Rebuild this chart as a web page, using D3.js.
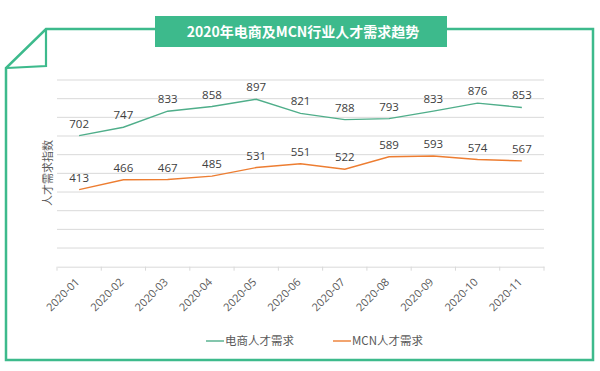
<!DOCTYPE html>
<html>
<head>
<meta charset="utf-8">
<script src="https://cdn.jsdelivr.net/npm/d3@7"></script>
<style>
  body { margin: 0; background: #fff; }
  svg { display: block; font-family: "Noto Sans CJK SC", "Open Sans", sans-serif; }
</style>
</head>
<body>
<div id="chart"></div>
<script>
const months = ["2020-01", "2020-02", "2020-03", "2020-04", "2020-05", "2020-06",
  "2020-07", "2020-08", "2020-09", "2020-10", "2020-11"];
const ecommerce = [702, 747, 833, 858, 897, 821, 788, 793, 833, 876, 853];
const mcn = [413, 466, 467, 485, 531, 551, 522, 589, 593, 574, 567];
const seriesNames = ["电商人才需求", "MCN人才需求"];
const title = "2020年电商及MCN行业人才需求趋势";
const yTitle = "人才需求指数";

const W = 600, H = 371;
const green = "#3dba8c", lineGreen = "#4fae8a", orange = "#ed7d31";

const svg = d3.select("#chart").append("svg")
  .attr("width", W).attr("height", H);

// frame with folded corner
svg.append("path")
  .attr("d", "M46,29 L593,29 L593,360 L6,360 L6,68 Z")
  .attr("fill", "none").attr("stroke", green).attr("stroke-width", 2.5)
  .attr("stroke-linejoin", "miter");
svg.append("path")
  .attr("d", "M46,30 L46,66 L7,68")
  .attr("fill", "none").attr("stroke", green).attr("stroke-width", 2.2);

// title box
svg.append("rect")
  .attr("x", 155).attr("y", 16).attr("width", 292).attr("height", 31)
  .attr("fill", green);
svg.append("text")
  .attr("x", 303).attr("y", 32).attr("dy", "0.35em")
  .attr("text-anchor", "middle").attr("fill", "#fff")
  .attr("font-size", 14).attr("font-weight", "bold")
  .text(title);

const x = d3.scaleBand().domain(months).range([57, 544]);
const y = d3.scaleLinear().domain([0, 1000]).range([266.7, 80]);

// gridlines
svg.append("g")
  .selectAll("line")
  .data(y.ticks(10).filter(d => d > 0))
  .enter().append("line")
  .attr("x1", 57).attr("x2", 544)
  .attr("y1", d => y(d)).attr("y2", d => y(d))
  .attr("stroke", "#d9d9d9").attr("stroke-width", 1);

// x axis
const xAxis = svg.append("g")
  .attr("transform", "translate(0," + y(0) + ")")
  .call(d3.axisBottom(x).tickSize(0).tickFormat(""));
xAxis.select(".domain").attr("stroke", "#d9d9d9");
svg.append("g")
  .selectAll("line")
  .data(months.concat(["end"]))
  .enter().append("line")
  .attr("x1", (d, i) => 57 + i * x.step()).attr("x2", (d, i) => 57 + i * x.step())
  .attr("y1", y(0)).attr("y2", y(0) + 4)
  .attr("stroke", "#d9d9d9");

svg.append("g")
  .selectAll("text")
  .data(months)
  .enter().append("text")
  .attr("transform", d => "translate(" + (x(d) + x.bandwidth() / 2 + 1) + "," + (y(0) + 16) + ") rotate(-45)")
  .attr("text-anchor", "end")
  .attr("fill", "#595959").attr("font-size", 11)
  .attr("font-family", "Open Sans, sans-serif")
  .text(d => d);

// y title
svg.append("text")
  .attr("transform", "translate(48,173) rotate(-90)")
  .attr("text-anchor", "middle").attr("dy", "0.35em")
  .attr("fill", "#595959").attr("font-size", 11)
  .text(yTitle);

const line = d3.line()
  .x((d, i) => x(months[i]) + x.bandwidth() / 2)
  .y(d => y(d));

[[ecommerce, lineGreen], [mcn, orange]].forEach(function(s) {
  svg.append("path")
    .datum(s[0])
    .attr("d", line)
    .attr("fill", "none").attr("stroke", s[1]).attr("stroke-width", 1.4);
  svg.append("g")
    .selectAll("text")
    .data(s[0])
    .enter().append("text")
    .attr("x", (d, i) => x(months[i]) + x.bandwidth() / 2)
    .attr("y", d => y(d) - 8)
    .attr("text-anchor", "middle")
    .attr("fill", "#404040").attr("font-size", 11.5)
    .attr("font-family", "Open Sans, sans-serif")
    .text(d => d);
});

// legend
const legend = svg.append("g");
[[seriesNames[0], lineGreen, 206], [seriesNames[1], orange, 333]].forEach(function(l) {
  legend.append("line")
    .attr("x1", l[2]).attr("x2", l[2] + 18)
    .attr("y1", 341).attr("y2", 341)
    .attr("stroke", l[1]).attr("stroke-width", 1.4);
  legend.append("text")
    .attr("x", l[2] + 19).attr("y", 341).attr("dy", "0.35em")
    .attr("fill", "#595959").attr("font-size", 11.5)
    .text(l[0]);
});
</script>
</body>
</html>
